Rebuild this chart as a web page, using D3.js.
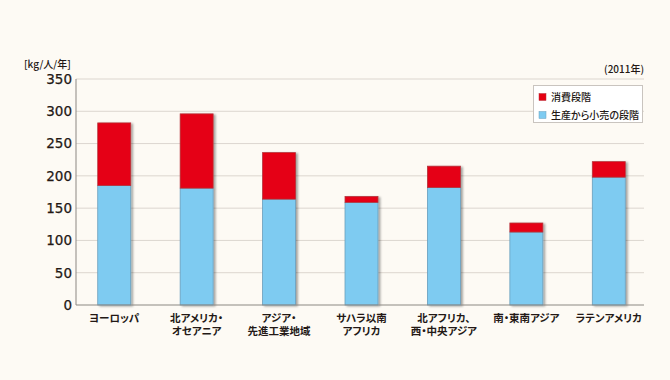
<!DOCTYPE html>
<html>
<head>
<meta charset="utf-8">
<script src="https://cdn.jsdelivr.net/npm/d3@7"></script>
<style>
  body { margin: 0; background: #fdfaf4; }
  svg { display: block; font-family: "Noto Sans CJK JP", "DejaVu Sans", sans-serif; }
  .jp { font-feature-settings: "palt"; }
</style>
</head>
<body>
<script>
// regions (two-line labels split with \n)
var regions = ["ヨーロッパ", "北アメリカ・\nオセアニア", "アジア・\n先進工業地域", "サハラ以南\nアフリカ",
               "北アフリカ、\n西・中央アジア", "南・東南アジア", "ラテンアメリカ"];
// kg per person per year
var supplyChain = [185, 181, 164, 159, 182, 113, 198];   // 生産から小売の段階
var consumer    = [97, 115, 72, 9, 33, 14, 24];           // 消費段階
var yTicks = [0, 50, 100, 150, 200, 250, 300, 350];

var W = 670, H = 380;
var svg = d3.select("body").append("svg").attr("width", W).attr("height", H);

var defs = svg.append("defs");
var f = defs.append("filter").attr("id", "shadow").attr("x", "-20%").attr("y", "-10%").attr("width", "160%").attr("height", "130%");
f.append("feDropShadow").attr("dx", 2).attr("dy", 1).attr("stdDeviation", 1.3)
  .attr("flood-color", "#000").attr("flood-opacity", 0.35);

// plot area (note: "top" is a reserved window prop, so use plotTop)
var plotLeft = 76, plotRight = 644, plotTop = 79, plotBottom = 305;

var x = d3.scaleBand().domain(regions).range([73, 650]).paddingInner(0.6).paddingOuter(0.3);
var y = d3.scaleLinear().domain([0, 350]).range([plotBottom, plotTop]);

// gridlines
svg.append("g").selectAll("line").data(yTicks.slice(1)).enter().append("line")
  .attr("x1", plotLeft).attr("x2", plotRight)
  .attr("y1", function(d) { return y(d); }).attr("y2", function(d) { return y(d); })
  .attr("stroke", "#dcd6cf").attr("stroke-width", 1);

// y axis labels
svg.append("g").selectAll("text").data(yTicks).enter().append("text")
  .attr("x", 72).attr("y", function(d) { return y(d); })
  .attr("dy", "0.36em").attr("text-anchor", "end")
  .attr("font-family", "DejaVu Sans").attr("font-size", 13.5)
  .attr("fill", "#231815").attr("stroke", "#231815").attr("stroke-width", 0.25)
  .text(function(d) { return d; });

// stacked bars
var bars = svg.append("g");
regions.forEach(function(r, i) {
  var g = bars.append("g").attr("filter", "url(#shadow)");
  var s = supplyChain[i], c = consumer[i];
  g.append("rect").attr("x", x(r)).attr("width", x.bandwidth())
    .attr("y", y(s)).attr("height", y(0) - y(s))
    .attr("fill", "#7ecbf1").attr("stroke", "#6a9fbd").attr("stroke-width", 0.8);
  g.append("rect").attr("x", x(r)).attr("width", x.bandwidth())
    .attr("y", y(s + c)).attr("height", y(s) - y(s + c))
    .attr("fill", "#e50012").attr("stroke", "#b5343c").attr("stroke-width", 0.8);
});

// axes lines
svg.append("line").attr("x1", plotLeft).attr("x2", plotLeft).attr("y1", plotTop).attr("y2", plotBottom)
  .attr("stroke", "#8c8782").attr("stroke-width", 1);
svg.append("line").attr("x1", plotLeft).attr("x2", plotRight).attr("y1", plotBottom).attr("y2", plotBottom)
  .attr("stroke", "#8c8782").attr("stroke-width", 1.2);

// category labels
var lab = svg.append("g").selectAll("text").data(regions).enter().append("text")
  .attr("class", "jp")
  .attr("text-anchor", "middle").attr("font-size", 10.5).attr("font-weight", 700)
  .attr("fill", "#231815")
  .attr("x", function(d) { return x(d) + x.bandwidth() / 2; })
  .attr("y", 321.5);
lab.each(function(d) {
  var t = d3.select(this);
  d.split("\n").forEach(function(line, k) {
    t.append("tspan").attr("x", x(d) + x.bandwidth() / 2).attr("dy", k ? 13.5 : 0).text(line);
  });
});

// unit + year
svg.append("text").attr("class", "jp").attr("x", 24).attr("y", 68).attr("font-size", 10)
  .attr("font-weight", 500).attr("fill", "#231815").text("[kg/人/年]");
svg.append("text").attr("class", "jp").attr("x", 644).attr("y", 73).attr("font-size", 10)
  .attr("font-weight", 500).attr("text-anchor", "end").attr("fill", "#231815").text("(2011年)");

// legend
var legend = svg.append("g");
legend.append("rect").attr("x", 533.5).attr("y", 85.5).attr("width", 109).attr("height", 37)
  .attr("fill", "#ffffff").attr("stroke", "#c9c4bf").attr("stroke-width", 1);
var legItems = [["消費段階", "#e50012", "#b5343c"], ["生産から小売の段階", "#7ecbf1", "#6a9fbd"]];
legItems.forEach(function(it, k) {
  var cy = 97 + k * 18;
  legend.append("rect").attr("x", 539).attr("y", cy - 3.5).attr("width", 7).attr("height", 7)
    .attr("fill", it[1]).attr("stroke", it[2]).attr("stroke-width", 0.5);
  legend.append("text").attr("class", "jp").attr("x", 551).attr("y", cy).attr("dy", "0.36em")
    .attr("font-size", 10).attr("font-weight", 500).attr("fill", "#231815").text(it[0]);
});
</script>
</body>
</html>
